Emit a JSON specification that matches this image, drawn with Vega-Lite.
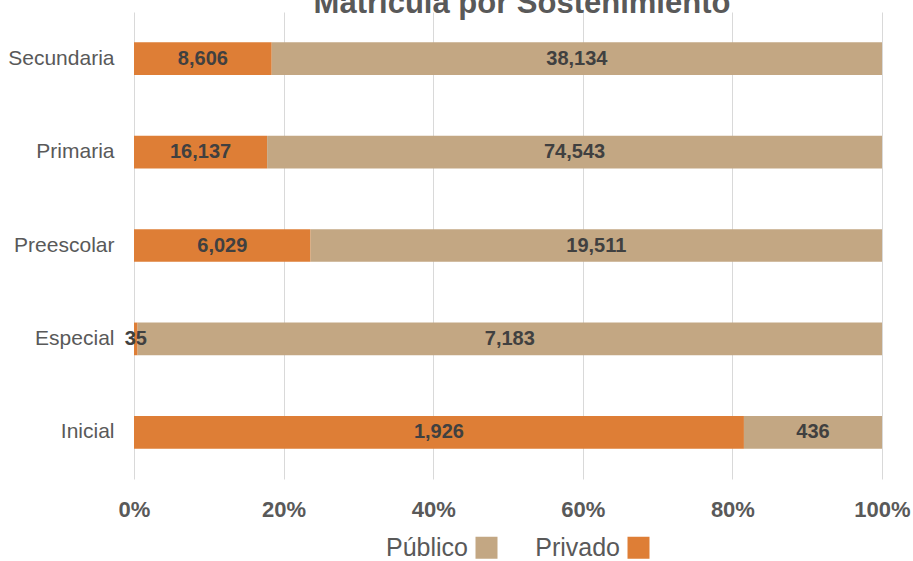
{
  "$schema": "https://vega.github.io/schema/vega-lite/v6.json",
  "width": 748,
  "height": 467,
  "autosize": {"type": "none"},
  "padding": {"left": 134, "top": 12, "right": 31, "bottom": 82},
  "background": "white",
  "config": {
    "font": "Liberation Sans",
    "view": {"stroke": null}
  },
  "title": {
    "text": "Matrícula por Sostenimiento",
    "fontSize": 31,
    "fontWeight": "bold",
    "color": "#595959",
    "anchor": "middle",
    "dx": 14,
    "offset": -8
  },
  "data": {
    "values": [
      {"nivel": "Secundaria", "sostenimiento": "Privado", "orden": 1, "valor": 8606},
      {"nivel": "Secundaria", "sostenimiento": "Público", "orden": 2, "valor": 38134},
      {"nivel": "Primaria", "sostenimiento": "Privado", "orden": 1, "valor": 16137},
      {"nivel": "Primaria", "sostenimiento": "Público", "orden": 2, "valor": 74543},
      {"nivel": "Preescolar", "sostenimiento": "Privado", "orden": 1, "valor": 6029},
      {"nivel": "Preescolar", "sostenimiento": "Público", "orden": 2, "valor": 19511},
      {"nivel": "Especial", "sostenimiento": "Privado", "orden": 1, "valor": 35},
      {"nivel": "Especial", "sostenimiento": "Público", "orden": 2, "valor": 7183},
      {"nivel": "Inicial", "sostenimiento": "Privado", "orden": 1, "valor": 1926},
      {"nivel": "Inicial", "sostenimiento": "Público", "orden": 2, "valor": 436}
    ]
  },
  "transform": [
    {"stack": "valor", "groupby": ["nivel"], "sort": [{"field": "orden", "order": "ascending"}], "offset": "normalize", "as": ["v0", "v1"]},
    {"calculate": "(datum.v0 + datum.v1) / 2", "as": "vmid"}
  ],
  "encoding": {
    "y": {
      "field": "nivel",
      "type": "nominal",
      "sort": ["Secundaria", "Primaria", "Preescolar", "Especial", "Inicial"],
      "scale": {"paddingInner": 0.65, "paddingOuter": 0.325},
      "axis": {
        "title": null,
        "ticks": false,
        "domain": false,
        "labelPadding": 20,
        "labelFontSize": 21,
        "labelColor": "#595959",
        "grid": false
      }
    }
  },
  "layer": [
    {
      "mark": {"type": "bar"},
      "encoding": {
        "x": {
          "field": "v0",
          "type": "quantitative",
          "scale": {"domain": [0, 1], "nice": false},
          "axis": {
            "title": null,
            "format": ".0%",
            "values": [0, 0.2, 0.4, 0.6, 0.8, 1],
            "ticks": false,
            "tickSize": 0,
            "domain": false,
            "grid": true,
            "gridColor": "#D9D9D9",
            "gridWidth": 1,
            "labelPadding": 20,
            "labelFontSize": 22,
            "labelFontWeight": "bold",
            "labelColor": "#595959",
            "labelFlush": false
          }
        },
        "x2": {"field": "v1"},
        "color": {
          "field": "sostenimiento",
          "type": "nominal",
          "scale": {"domain": ["Público", "Privado"], "range": ["#C3A783", "#DE7E36"]},
          "legend": {
            "title": null,
            "orient": "none",
            "legendX": 340,
            "legendY": 523,
            "direction": "horizontal",
            "symbolType": "square",
            "symbolSize": 484,
            "symbolStrokeWidth": 0,
            "symbolOpacity": 1,
            "labelFontSize": 25,
            "labelColor": "#595959",
            "labelAlign": "right",
            "labelOffset": -31,
            "columnPadding": 37
          }
        }
      }
    },
    {
      "mark": {"type": "text", "fontSize": 20, "fontWeight": "bold", "color": "#404040", "baseline": "middle", "align": "center"},
      "encoding": {
        "x": {"field": "vmid", "type": "quantitative"},
        "text": {"field": "valor", "type": "quantitative", "format": ",d"}
      }
    }
  ]
}
